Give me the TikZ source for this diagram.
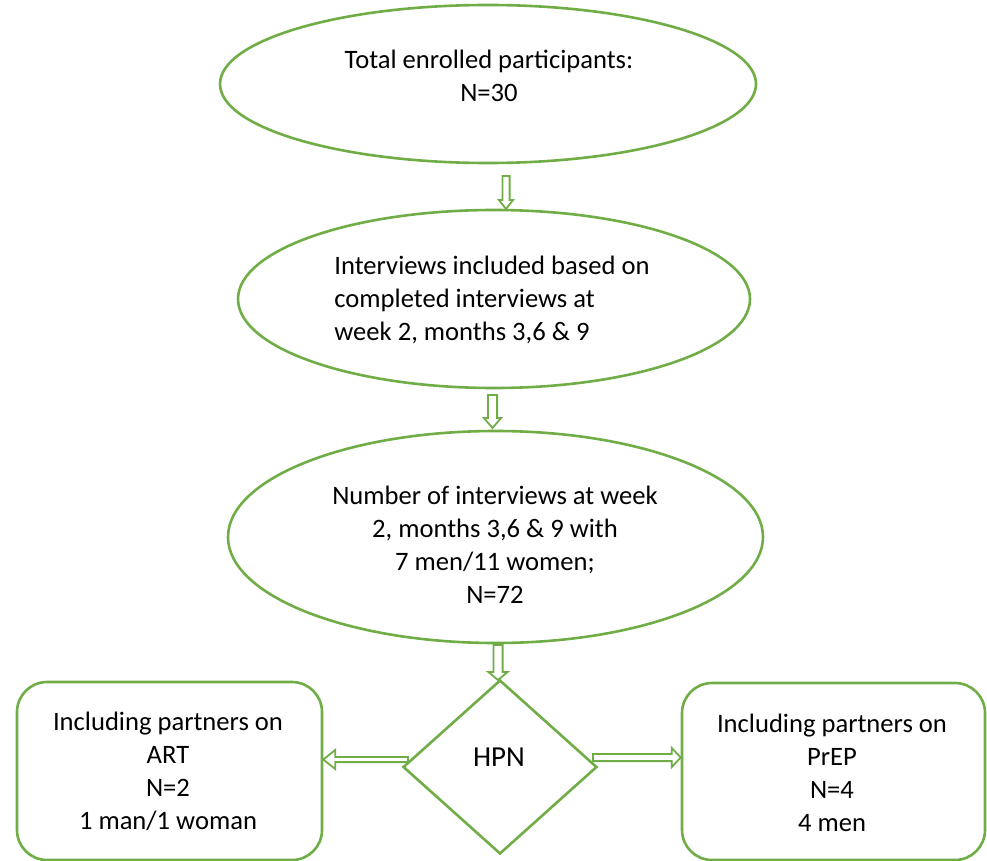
\documentclass[tikz,border=0pt]{standalone}
\usepackage{fontspec}
\setmainfont{Carlito}
\usetikzlibrary{shapes.geometric,calc}
\definecolor{grn}{HTML}{70AD47}
\newcommand{\blockarrow}[6]{% name, start, end, halfshaft, halfhead, headlen
  \path ($(#3)!#6!(#2)$) coordinate (#1h);
  \draw[arr] ($(#2)!#4!90:(#3)$) -- ($(#1h)!#4!-90:(#2)$) -- ($(#1h)!#5!-90:(#2)$) -- (#3)
    -- ($(#1h)!#5!90:(#2)$) -- ($(#1h)!#4!90:(#2)$) -- ($(#2)!#4!-90:(#3)$) -- cycle;}
\begin{document}
\begin{tikzpicture}[x=1pt,y=-1pt,
  shp/.style={draw=grn, line width=2.6pt, fill=white, inner sep=0pt},
  ell/.style={shp, ellipse},
  rbox/.style={shp, rectangle, rounded corners=30pt},
  dia/.style={shp, diamond},
  txt/.style={font=\fontsize{26.6}{33}\selectfont, align=center, inner sep=0pt, text=black},
  arr/.style={draw=grn, line width=1.8pt, fill=white, line join=miter}]
\useasboundingbox (0,0) rectangle (987,861);
% shapes
\node[ell, minimum width=536pt, minimum height=158pt] (e1) at (488,84) {};
\node[ell, minimum width=512pt, minimum height=178pt] (e2) at (494,299) {};
\node[ell, minimum width=535pt, minimum height=212pt] (e3) at (495.5,537) {};
\node[dia, minimum width=194pt, minimum height=174pt] (d) at (500,767) {};
\node[rbox, minimum width=305pt, minimum height=178pt] (b1) at (169.5,771) {};
\node[rbox, minimum width=303pt, minimum height=177pt] (b2) at (833.5,771.5) {};
% texts
\node[txt] (t1) at (489,76) {Total enrolled participants:\\N=30};
\node[txt, align=left] (t2) at (492,300) {Interviews included based on\\completed interviews at\\week 2, months 3,6 \& 9};
\node[txt] (t3) at (495,545) {Number of interviews at week\\2, months 3,6 \& 9 with\\7 men/11 women;\\N=72};
\node[txt, font=\fontsize{29}{33}\selectfont] (t4) at (499,757) {HPN};
\node[txt] (t5) at (168,771) {Including partners on\\ART\\N=2\\1 man/1 woman};
\node[txt] (t6) at (832,773) {Including partners on\\PrEP\\N=4\\4 men};
% arrow end points
\coordinate (a1s) at (506,176);   \coordinate (a1e) at (506,209);
\coordinate (a2s) at (492.5,395); \coordinate (a2e) at (492.5,428);
\coordinate (a3s) at (498,645);   \coordinate (a3e) at (498,680);
\coordinate (a4s) at (408,759.5); \coordinate (a4e) at (b1.east |- a4s);
\coordinate (a5s) at (593,757.5); \coordinate (a5e) at (b2.west |- a5s);
\blockarrow{a1}{a1s}{a1e}{3.6pt}{7.1pt}{9pt}
\blockarrow{a2}{a2s}{a2e}{4.6pt}{8.6pt}{10pt}
\blockarrow{a3}{a3s}{a3e}{4.6pt}{9.6pt}{8pt}
\blockarrow{a4}{a4s}{a4e}{2.6pt}{9.6pt}{12pt}
\blockarrow{a5}{a5s}{a5e}{3.6pt}{9.6pt}{9pt}
\end{tikzpicture}
\end{document}
